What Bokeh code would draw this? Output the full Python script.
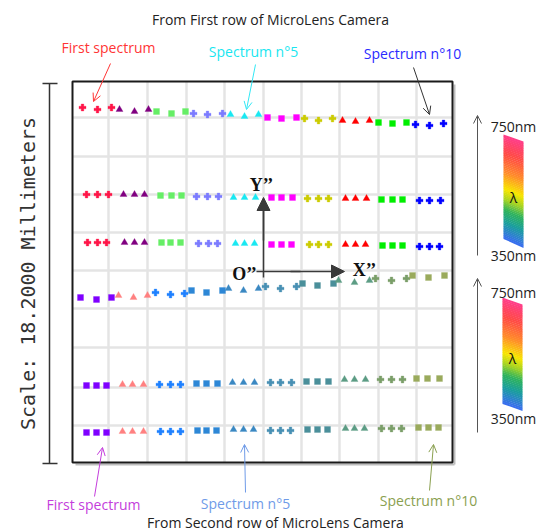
import numpy as np
from bokeh.plotting import figure
from bokeh.models import ColumnDataSource, Range1d, Label, Arrow, OpenHead, NormalHead
from bokeh.embed import file_html
from bokeh.resources import INLINE

# ---------------- data (spot positions, page pixel units) ----------------
row1_x = [82, 97, 111, 119, 134, 148, 156, 171, 185, 193, 207, 222, 230, 244, 258,
          267, 281, 296, 304, 318, 332, 342, 355, 369, 378, 392, 406, 415, 429, 443]
row1_y = [107, 109, 107, 109, 111, 109, 111, 113, 111, 113, 114, 113, 114, 116, 114,
          117, 118, 117, 118, 120, 118, 120, 121, 120, 122, 123, 122, 124, 125, 123]
row2_x = [86, 97, 108, 123, 134, 144, 160, 171, 181, 196, 207, 218, 233, 244, 255,
          271, 281, 292, 307, 318, 328, 345, 355, 366, 381, 392, 402, 419, 429, 440]
row2_y = [194, 194, 194, 194, 194, 194, 195, 195, 195, 196, 196, 196, 197, 197, 197,
          197, 197, 197, 198, 198, 198, 198, 198, 198, 199, 199, 199, 200, 200, 200]
row3_x = [87, 97, 106, 124, 134, 144, 161, 170, 180, 198, 208, 217, 235, 244, 254,
          271, 281, 291, 309, 318, 328, 345, 355, 365, 382, 392, 402, 419, 429, 439]
row3_y = [242, 242, 242, 242, 242, 242, 242, 242, 242, 243, 243, 243, 243, 243, 243,
          244, 244, 244, 244, 244, 244, 244, 244, 244, 245, 245, 245, 246, 246, 246]
row4_x = [80, 96, 111, 118, 133, 147, 155, 170, 184, 191, 206, 222, 228, 243, 258,
          265, 280, 296, 302, 317, 333, 338, 354, 369, 375, 391, 406, 412, 428, 444]
row4_y = [297, 299, 297, 295, 297, 295, 292, 294, 293, 290, 292, 290, 288, 290, 288,
          286, 288, 286, 283, 285, 283, 280, 282, 280, 278, 280, 278, 275, 277, 275]
row5_x = [86, 96, 106, 122, 132, 143, 159, 170, 180, 196, 206, 217, 232, 243, 254,
          270, 280, 291, 306, 317, 328, 344, 354, 365, 380, 391, 402, 416, 427, 439]
row5_y = [385, 385, 385, 384, 384, 384, 384, 384, 384, 383, 383, 383, 382, 382, 382,
          382, 382, 382, 381, 381, 381, 379, 379, 379, 379, 379, 379, 378, 378, 378]
row6_x = [86, 96, 106, 122, 132, 143, 160, 170, 180, 197, 206, 216, 233, 243, 253,
          270, 280, 290, 307, 317, 327, 345, 354, 364, 381, 391, 401, 418, 428, 438]
row6_y = [432, 432, 432, 431, 431, 431, 431, 431, 431, 430, 430, 430, 429, 429, 429,
          430, 430, 430, 429, 429, 429, 428, 428, 428, 428, 428, 428, 427, 427, 427]

first_cam_markers = ["plus", "triangle", "square", "plus", "triangle",
                     "square", "plus", "triangle", "square", "plus"]
first_cam_colors = ["#ff1447", "#800080", "#66ee66", "#7b7bff", "#19e8f2",
                    "#ff00ff", "#cccc00", "#ff0000", "#00ee00", "#0000ff"]
second_cam_markers = ["square", "triangle", "plus", "square", "triangle",
                      "plus", "square", "triangle", "plus", "square"]
second_cam_colors = ["#7f00ff", "#ff8080", "#1e80ff", "#2d87d6", "#3a88c2",
                     "#4890b4", "#4a8f9a", "#5c9c84", "#7a9e68", "#9aaa5c"]

grid_x = [108, 147, 186, 224, 263, 301, 339, 378, 416]
grid_y = [117, 156, 194, 232, 270, 308, 347, 387, 425]

# ---------------- figure ----------------
W, H = 541, 531
p = figure(width=W, height=H, x_range=Range1d(0, W), y_range=Range1d(H, 0),
           output_backend="svg", toolbar_location=None, min_border=0,
           x_axis_location=None, y_axis_location=None)
p.grid.visible = False
p.outline_line_color = None
p.background_fill_color = "white"

# frame box + grid
FL, FR, FT, FB = 72, 452, 81, 462
p.segment(x0=grid_x, y0=[FT] * 9, x1=grid_x, y1=[FB] * 9, line_color="#e4e4e4", line_width=2.5)
p.segment(x0=[FL] * 9, y0=grid_y, x1=[FR] * 9, y1=grid_y, line_color="#e4e4e4", line_width=2.5)
p.segment(x0=[FR + 2, FL + 3], y0=[FT + 3, FB + 2], x1=[FR + 2, FR + 2], y1=[FB + 2, FB + 2],
          line_color="#bdbdbd", line_width=2)
p.quad(left=FL, right=FR, top=FT, bottom=FB, fill_color=None, line_color="#1a1a1a", line_width=2)

# spots
def add_rows(xs_list, ys_list, markers, colors):
    X, Y, M, C, S = [], [], [], [], []
    for xs, ys in zip(xs_list, ys_list):
        for i, (xv, yv) in enumerate(zip(xs, ys)):
            k = i // 3
            X.append(xv); Y.append(yv); M.append(markers[k]); C.append(colors[k])
            S.append({"plus": 7, "triangle": 7, "square": 6}[markers[k]])
    src = ColumnDataSource(dict(x=X, y=Y, marker=M, color=C, size=S))
    p.scatter("x", "y", marker="marker", size="size", fill_color="color",
              line_color="color", line_width=0.3, source=src)

add_rows([row1_x, row2_x, row3_x], [row1_y, row2_y, row3_y], first_cam_markers, first_cam_colors)
add_rows([row4_x, row5_x, row6_x], [row4_y, row5_y, row6_y], second_cam_markers, second_cam_colors)

# center axes
AX = "#3a3a3a"
p.segment(x0=[263, 256], y0=[277, 271], x1=[263, 300], y1=[210, 271], line_color=AX, line_width=1.5)
p.add_layout(Arrow(end=NormalHead(size=13, fill_color=AX, line_color=AX),
                   x_start=263, y_start=240, x_end=263, y_end=197, line_color=AX, line_width=1.5))
p.add_layout(Arrow(end=NormalHead(size=13, fill_color=AX, line_color=AX),
                   x_start=290, y_start=271, x_end=344, y_end=271, line_color=AX, line_width=1.5))
SERIF = "Liberation Serif"
for txt, x, y in [("Y\u2019\u2019", 261, 184), ("X\u2019\u2019", 364, 269), ("O\u2019\u2019", 244, 273)]:
    p.add_layout(Label(x=x, y=y, text=txt, text_align="center", text_baseline="middle",
                       text_font=SERIF, text_font_style="bold", text_font_size="18px",
                       text_color="#111111"))

# scale bar on the left
p.segment(x0=[49, 42, 42], y0=[83, 83, 463], x1=[49, 57, 57], y1=[463, 83, 463],
          line_color="#333333", line_width=1.5)
p.add_layout(Label(x=27, y=273, text="Scale: 18.2000 Millimeters", angle=np.pi / 2,
                   text_align="center", text_baseline="middle", text_font="DejaVu Sans Mono",
                   text_font_size="20px", text_color="#333333"))

# texts
SANS = "Open Sans"
texts = [
    ("From First row of MicroLens Camera", 270, 19, "#222222"),
    ("First spectrum", 108, 47, "#ff3535"),
    ("Spectrum n\u00b05", 253, 51, "#19e6f0"),
    ("Spectrum n\u00b010", 412, 53, "#2a2aff"),
    ("First spectrum", 93, 504, "#c43ddc"),
    ("Spectrum n\u00b05", 245, 503, "#6f9be8"),
    ("Spectrum n\u00b010", 428, 500, "#8aa050"),
    ("From Second row of MicroLens Camera", 275, 522, "#222222"),
]
for txt, x, y, c in texts:
    p.add_layout(Label(x=x, y=y, text=txt, text_align="center", text_baseline="middle",
                       text_font=SANS, text_font_size="14px", text_color=c))

# pointer arrows
arrows = [
    (110, 63, 93, 101, "#ff3535"),
    (255, 64, 246, 109, "#33e8f5"),
    (413, 67, 429, 114, "#333333"),
    (94, 496, 102, 447, "#c43ddc"),
    (245, 492, 244, 444, "#6f9be8"),
    (429, 490, 433, 444, "#8aa050"),
]
for x0, y0, x1, y1, c in arrows:
    p.add_layout(Arrow(end=OpenHead(size=8, line_color=c, line_width=1),
                       x_start=x0, y_start=y0, x_end=x1, y_end=y1, line_color=c, line_width=1))

# wavelength bars
stops = [(0.0, "#ff3d8c"), (0.18, "#ff4a45"), (0.36, "#ff8c2a"), (0.52, "#f8e600"),
         (0.62, "#a6d422"), (0.72, "#2fb35a"), (0.84, "#1a9f9c"), (1.0, "#3a6cf2")]

def hex2rgb(h):
    return np.array([int(h[i:i + 2], 16) for i in (1, 3, 5)], dtype=float)

def color_at(t):
    for (t0, c0), (t1, c1) in zip(stops[:-1], stops[1:]):
        if t0 <= t <= t1:
            f = (t - t0) / (t1 - t0)
            rgb = hex2rgb(c0) * (1 - f) + hex2rgb(c1) * f
            return "#%02x%02x%02x" % tuple(int(round(v)) for v in rgb)
    return stops[-1][1]

def wavebar(L, R, TL, TR, BL, BR, arrow_top, arrow_bot, lam_y, top_lbl_y, bot_lbl_y):
    n = 60
    xs, ys, cs = [], [], []
    for i in range(n):
        t0, t1 = i / n, (i + 1) / n
        yl0, yl1 = TL + t0 * (BL - TL), TL + t1 * (BL - TL)
        yr0, yr1 = TR + t0 * (BR - TR), TR + t1 * (BR - TR)
        xs.append([L, R, R, L]); ys.append([yl0, yr0, yr1 + 0.4, yl1 + 0.4])
        cs.append(color_at((t0 + t1) / 2))
    p.patches(xs, ys, fill_color=cs, line_color=None)
    p.add_layout(Arrow(end=OpenHead(size=8, line_color="#555555", line_width=1),
                       x_start=477, y_start=arrow_bot, x_end=477, y_end=arrow_top,
                       line_color="#555555", line_width=1))
    p.add_layout(Label(x=(L + R) / 2, y=lam_y, text="\u03bb", text_align="center",
                       text_baseline="middle", text_font=SANS, text_font_size="14px",
                       text_color="#111111"))
    for txt, y in [("750nm", top_lbl_y), ("350nm", bot_lbl_y)]:
        p.add_layout(Label(x=513, y=y, text=txt, text_align="center", text_baseline="middle",
                           text_font=SANS, text_font_size="14px", text_color="#222222"))

wavebar(503, 523, 134, 141, 238, 247, 115, 255, 197, 126, 255)
wavebar(502, 522, 297, 304, 403, 410, 278, 432, 358, 292, 418)

open("out.html", "w").write(file_html(p, INLINE))
